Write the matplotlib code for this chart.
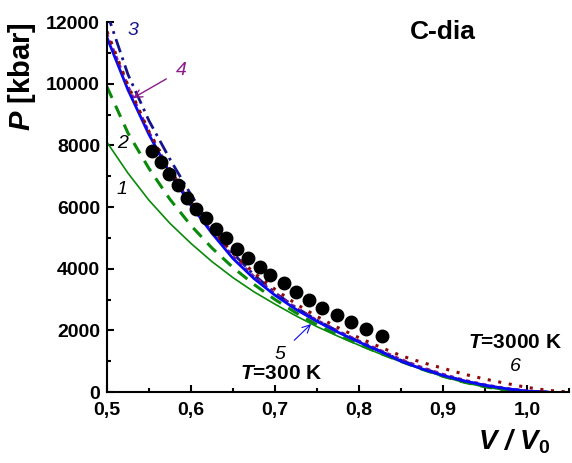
import numpy as np
import matplotlib
matplotlib.use("Agg")
import matplotlib.pyplot as plt
from matplotlib.ticker import MultipleLocator, FuncFormatter

plt.rcParams["font.family"] = ["Liberation Sans", "DejaVu Sans"]
plt.rcParams["mathtext.fontset"] = "custom"
plt.rcParams["mathtext.rm"] = "Liberation Sans"
plt.rcParams["mathtext.it"] = "Liberation Sans:italic"
plt.rcParams["mathtext.bf"] = "Liberation Sans:bold"
plt.rcParams["mathtext.bfit"] = "Liberation Sans:italic:bold"

# V/V0 grid shared by the model curves
v = [0.50, 0.525, 0.55, 0.575, 0.60, 0.625, 0.65, 0.675, 0.70, 0.725, 0.75, 0.775,
     0.80, 0.825, 0.85, 0.875, 0.90, 0.925, 0.95, 0.975, 1.00, 1.025, 1.05]
nan = np.nan
p1 = [8100, 7100, 6220, 5470, 4820, 4230, 3710, 3250, 2850, 2470, 2120, 1810,
      1520, 1240, 980, 730, 500, 310, 160, 60, 0, nan, nan]
p2 = [9900, 8400, 7250, 6250, 5400, 4670, 4040, 3490, 3000, 2570, 2180, 1840,
      1540, 1260, 990, 740, 510, 320, 170, 60, 5, nan, nan]
p3 = [12300, 10300, 8800, 7550, 6400, 5350, 4500, 3800, 3220, 2740, 2330, 1970,
      1640, 1330, 1030, 780, 550, 360, 210, 100, 30, 0, nan]
p4 = [11650, 9950, 8450, 7200, 6120, 5220, 4420, 3760, 3210, 2740, 2340, 1990,
      1670, 1370, 1070, 810, 590, 400, 250, 130, 50, 0, nan]
p5 = [11500, 9800, 8350, 7100, 6050, 5150, 4330, 3680, 3140, 2680, 2290, 1940,
      1620, 1320, 1000, 750, 540, 360, 220, 110, 30, 0, nan]
p6 = [11700, 9950, 8450, 7220, 6150, 5260, 4500, 3870, 3330, 2860, 2450, 2090,
      1760, 1460, 1180, 960, 770, 580, 420, 280, 150, 55, 0]

# experimental points
v_exp = [0.554, 0.564, 0.574, 0.585, 0.595, 0.606, 0.618, 0.630, 0.642, 0.655, 0.668,
         0.682, 0.694, 0.711, 0.725, 0.741, 0.756, 0.774, 0.791, 0.808, 0.827]
p_exp = [7820, 7460, 7070, 6710, 6290, 5940, 5640, 5290, 5000, 4640, 4350,
         4050, 3800, 3540, 3240, 2980, 2720, 2500, 2270, 2040, 1820]

fig = plt.figure(figsize=(5.72, 4.63), dpi=100)
ax = fig.add_axes([0.187, 0.1533, 0.8077, 0.7991])

green = "#0a8a0a"
navy = "#14148c"
purple = "#8c1c8c"
maroon = "#8b0a0a"
blue = "#0a0af0"

ax.plot(v, p1, color=green, lw=1.2)
ax.plot(v, p2, color=green, lw=2.2, ls=(0, (4, 2.8)))
ax.plot(v, p3, color=navy, lw=2, ls=(0, (5, 2, 1, 2)))
ax.plot(v, p4, color=purple, lw=1.5, ls=(0, (2, 2)))
ax.plot(v, p5, color=blue, lw=2)
ax.plot(v, p6, color=maroon, lw=2.2, ls=(0, (1, 2.5)))
ax.plot(v_exp, p_exp, "o", color="black", ms=9, zorder=5)

ax.set_xlim(0.5, 1.05)
ax.set_ylim(0, 12000)
for s in ["top", "right"]:
    ax.spines[s].set_visible(False)
for s in ["left", "bottom"]:
    ax.spines[s].set_linewidth(1.5)

ax.xaxis.set_major_locator(MultipleLocator(0.1))
ax.xaxis.set_minor_locator(MultipleLocator(0.05))
ax.yaxis.set_major_locator(MultipleLocator(2000))
ax.yaxis.set_minor_locator(MultipleLocator(1000))
ax.xaxis.set_major_formatter(FuncFormatter(lambda x, p: f"{x:.1f}".replace(".", ",")))
ax.tick_params(which="both", direction="in", width=1.5)
ax.tick_params(which="major", length=5)
ax.tick_params(which="minor", length=3)
ax.tick_params(axis="x", pad=7)
ax.tick_params(axis="y", pad=5)
for lab in ax.get_xticklabels() + ax.get_yticklabels():
    lab.set_fontsize(14)
    lab.set_fontweight("bold")

num = dict(fontsize=14, style="italic", ha="center", va="center")
ax.text(0.531, 11740, "3", color=navy, **num)
ax.text(0.518, 8075, "2", color="black", **num)
ax.text(0.518, 6584, "1", color="black", **num)
ax.text(0.986, 843, "6", color="black", **num)
ax.annotate("4", xy=(0.531, 9534), xytext=(0.589, 10443), color=purple,
            arrowprops=dict(arrowstyle="->", color=purple, lw=1, shrinkA=6, shrinkB=0),
            **num)
ax.annotate("5", xy=(0.743, 2205), xytext=(0.706, 1232), color="black",
            arrowprops=dict(arrowstyle="->", color=blue, lw=0.8, shrinkA=6, shrinkB=0),
            **num)
ax.text(0.707, 616, r"$\mathbfit{T}$=300 K", fontsize=15, fontweight="bold",
        ha="center", va="center")
ax.text(0.986, 1622, r"$\mathbfit{T}$=3000 K", fontsize=15, fontweight="bold",
        ha="center", va="center")

fig.text(0.775, 0.931, "C-dia", fontsize=19, fontweight="bold", ha="center", va="center")
fig.text(0.038, 0.834, r"$\mathbfit{P}$ [kbar]", fontsize=21, fontweight="bold",
         rotation=90, ha="center", va="center")
fig.text(0.899, 0.045, r"$\mathbfit{V\ /\ V}_{\mathbf{0}}$", fontsize=20,
         ha="center", va="center")

fig.savefig("out.png", dpi=100)
